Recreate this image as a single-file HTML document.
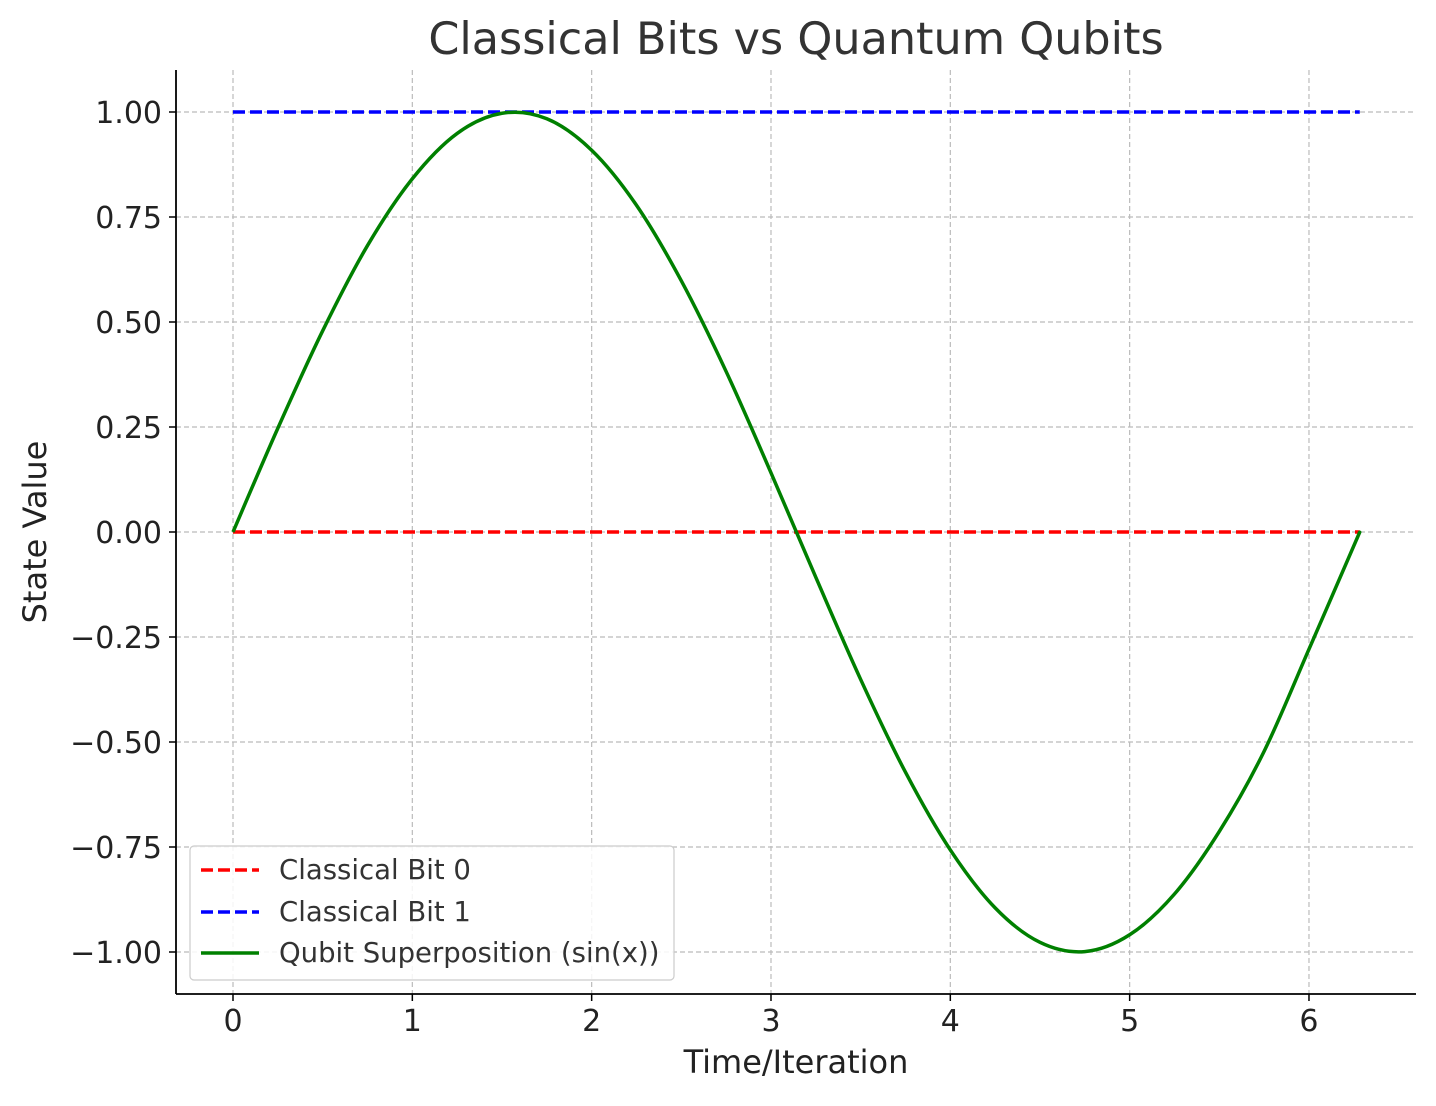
<!DOCTYPE html>
<html><head><meta charset="utf-8"><style>
body{margin:0;background:#fff;}
svg text{font-family:"DejaVu Sans","Liberation Sans",sans-serif;}
</style></head><body>
<svg id="chart" width="1436" height="1101" xmlns="http://www.w3.org/2000/svg">
<text x="796" y="54" font-size="44.5" fill="#333" text-anchor="middle">Classical Bits vs Quantum Qubits</text>
<g id="grid"></g>
<g id="series"></g>
<line x1="176" y1="70" x2="176" y2="994" stroke="#000" stroke-width="1.8"/>
<line x1="176" y1="994" x2="1416" y2="994" stroke="#000" stroke-width="1.8"/>
<g id="ticks"></g>
<text x="796" y="1073" font-size="32" fill="#222" text-anchor="middle">Time/Iteration</text>
<text transform="translate(46,532) rotate(-90)" font-size="32" fill="#222" text-anchor="middle">State Value</text>
<g>
<rect x="190" y="846" width="484" height="134" rx="4" fill="#fff" fill-opacity="0.85" stroke="#ccc" stroke-width="1.2"/>
<line x1="201" y1="870" x2="259" y2="870" stroke="#f00" stroke-width="3.5" stroke-dasharray="12,5"/>
<text x="279" y="879" font-size="27.5" fill="#333">Classical Bit 0</text>
<line x1="201" y1="912" x2="259" y2="912" stroke="#00f" stroke-width="3.5" stroke-dasharray="12,5"/>
<text x="279" y="921" font-size="27.5" fill="#333">Classical Bit 1</text>
<line x1="201" y1="953" x2="259" y2="953" stroke="#008000" stroke-width="3.5"/>
<text x="279" y="962" font-size="27.5" fill="#333">Qubit Superposition (sin(x))</text>
</g>
</svg>
<script>
const xTicks=[0,1,2,3,4,5,6];
const yTicks=[1,0.75,0.5,0.25,0,-0.25,-0.5,-0.75,-1];
const yTickLabels=["1.00","0.75","0.50","0.25","0.00","\u22120.25","\u22120.50","\u22120.75","\u22121.00"];
const bitX=[0,6.2832];
const bit0=[0,0];
const bit1=[1,1];
const qubitX=[0,0.25,0.5,0.75,1,1.25,1.5,1.75,2,2.25,2.5,2.75,3,3.25,3.5,3.75,4,4.25,4.5,4.75,5,5.25,5.5,5.75,6,6.25,6.2832];
const qubitY=[0,0.247,0.479,0.682,0.841,0.949,0.997,0.984,0.909,0.778,0.598,0.382,0.141,-0.108,-0.351,-0.572,-0.757,-0.895,-0.977,-0.999,-0.959,-0.862,-0.713,-0.522,-0.279,-0.033,0];
const NS="http://www.w3.org/2000/svg";
const sx=v=>233+v*179.33;
const sy=v=>532-v*420;
function mk(tag,attrs,parent){const e=document.createElementNS(NS,tag);for(const k in attrs)e.setAttribute(k,attrs[k]);document.getElementById(parent).appendChild(e);return e;}
xTicks.forEach(t=>{
 const g=mk('line',{x1:sx(t),x2:sx(t),y1:70,y2:994,stroke:'#bbb','stroke-width':1.2,'stroke-dasharray':'5,3'},'grid');
 
 
 const tk=mk('line',{x1:sx(t),x2:sx(t),y1:994,y2:1001,stroke:'#000','stroke-width':1.5},'ticks');
 
 
 const tx=mk('text',{x:sx(t),y:1031,'font-size':30,fill:'#222','text-anchor':'middle'},'ticks');
 tx.textContent=t;
 
 
});
yTicks.forEach((t,i)=>{
 const g=mk('line',{x1:176,x2:1416,y1:sy(t),y2:sy(t),stroke:'#bbb','stroke-width':1.2,'stroke-dasharray':'5,3'},'grid');
 
 
 const tk=mk('line',{x1:169,x2:176,y1:sy(t),y2:sy(t),stroke:'#000','stroke-width':1.5},'ticks');
 
 
 const tx=mk('text',{x:162,y:sy(t)+11,'font-size':30,fill:'#222','text-anchor':'end'},'ticks');
 tx.textContent=yTickLabels[i];
 
 
});
const l0=mk('line',{x1:sx(bitX[0]),x2:sx(bitX[1]),y1:sy(bit0[0]),y2:sy(bit0[1]),stroke:'#f00','stroke-width':3.5,'stroke-dasharray':'12,5'},'series');


const l1=mk('line',{x1:sx(bitX[0]),x2:sx(bitX[1]),y1:sy(bit1[0]),y2:sy(bit1[1]),stroke:'#00f','stroke-width':3.5,'stroke-dasharray':'12,5'},'series');


const P=qubitX.map((x,i)=>[sx(x),sy(qubitY[i])]);
let d='M'+P[0][0]+','+P[0][1];
for(let i=0;i<P.length-1;i++){
 const p0=P[Math.max(0,i-1)],p1=P[i],p2=P[i+1],p3=P[Math.min(P.length-1,i+2)];
 d+=' C'+(p1[0]+(p2[0]-p0[0])/6)+','+(p1[1]+(p2[1]-p0[1])/6)+' '+(p2[0]-(p3[0]-p1[0])/6)+','+(p2[1]-(p3[1]-p1[1])/6)+' '+p2[0]+','+p2[1];
}
const q=mk('path',{d:d,fill:'none',stroke:'#008000','stroke-width':3.5},'series');


</script>
</body></html>
